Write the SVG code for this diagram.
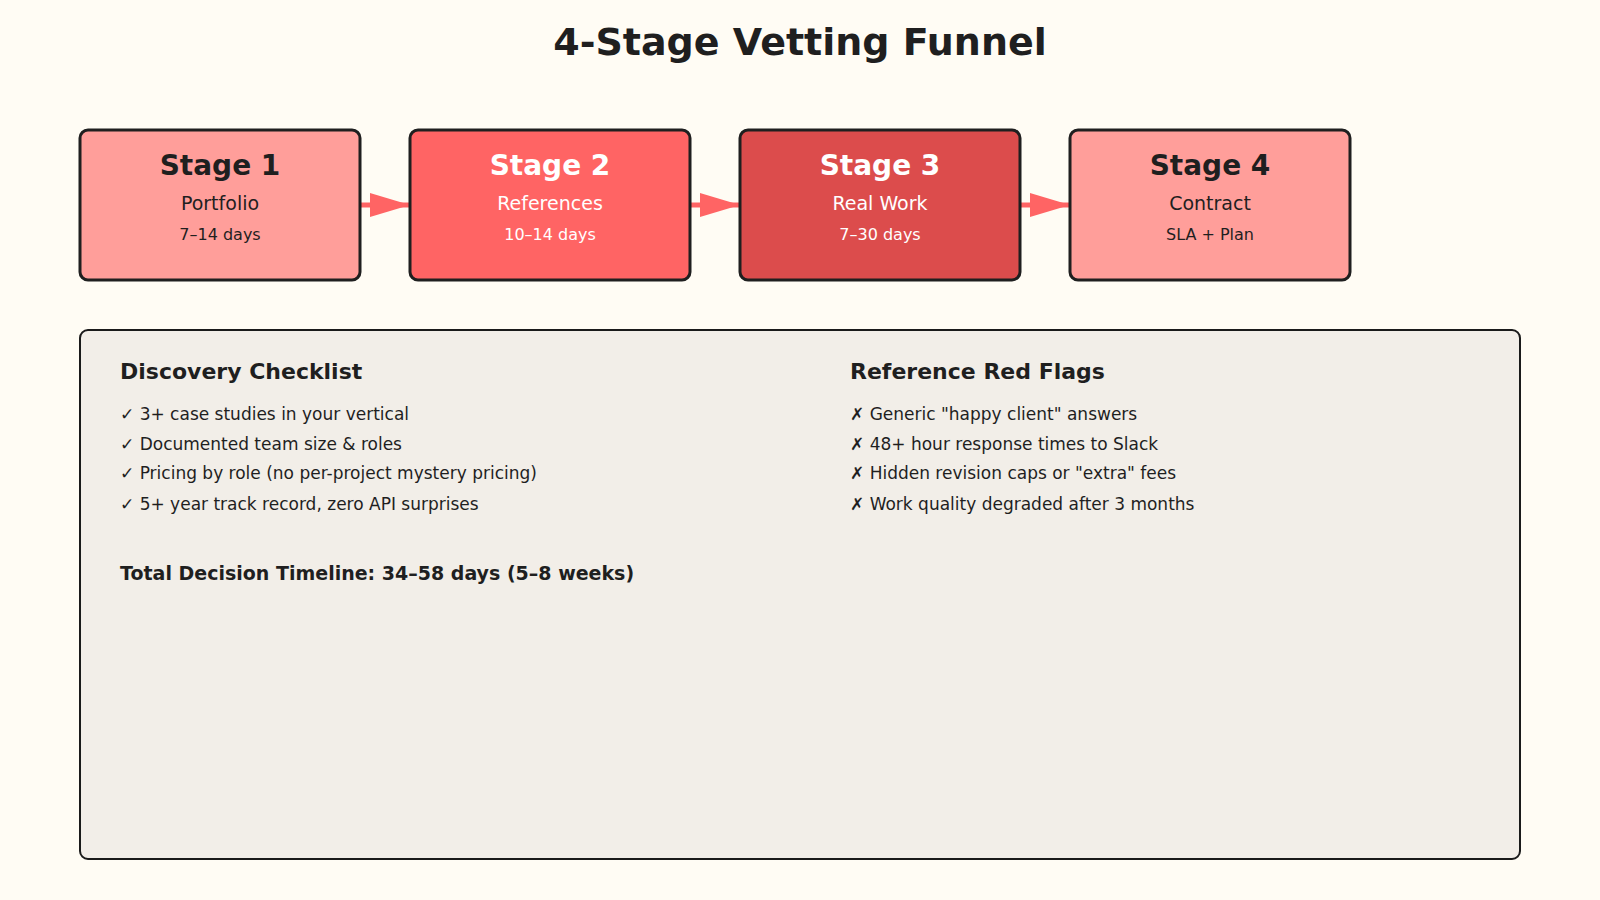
<svg xmlns="http://www.w3.org/2000/svg" width="1600" height="900" viewBox="0 0 1600 900">
<style>
text{font-family:"DejaVu Sans",sans-serif;fill:#1f1f1f}
.st{stroke:#1f1f1f;stroke-width:3}
.h{font-size:28px;font-weight:bold;text-anchor:middle}
.s{font-size:19px;text-anchor:middle}
.d{font-size:16px;text-anchor:middle}
.w{fill:#fff}
.hd{font-size:22px;font-weight:bold}
.it{font-size:17px}
</style>
<defs><marker id="a" markerWidth="10" markerHeight="8" refX="10" refY="4" orient="auto" markerUnits="userSpaceOnUse" viewBox="0 0 10 8"><path d="M0,0L10,4L0,8z" fill="#ff6464"/></marker>
<marker id="ah" viewBox="0 0 40 24" refX="40" refY="12" markerWidth="40" markerHeight="24" markerUnits="userSpaceOnUse" orient="auto"><path d="M0,0L40,12L0,24z" fill="#ff6464"/></marker></defs>
<rect width="1600" height="900" fill="#fffcf4"/>
<text x="800" y="55" style="font-size:38px;font-weight:bold;text-anchor:middle">4-Stage Vetting Funnel</text>
<g id="connectors" stroke="#ff6464" stroke-width="5">
<line x1="361" y1="205" x2="410" y2="205" marker-end="url(#ah)"/>
<line x1="691" y1="205" x2="740" y2="205" marker-end="url(#ah)"/>
<line x1="1021" y1="205" x2="1070" y2="205" marker-end="url(#ah)"/>
</g>
<g id="stage1"><rect class="st" x="80" y="130" width="280" height="150" rx="8" fill="#ff9e9a"/><text class="h" x="220" y="175">Stage 1</text><text class="s" x="220" y="210">Portfolio</text><text class="d" x="220" y="240">7–14 days</text></g>
<g id="stage2"><rect class="st" x="410" y="130" width="280" height="150" rx="8" fill="#ff6464"/><text class="h w" x="550" y="175">Stage 2</text><text class="s w" x="550" y="210">References</text><text class="d w" x="550" y="240">10–14 days</text></g>
<g id="stage3"><rect class="st" x="740" y="130" width="280" height="150" rx="8" fill="#dc4c4c"/><text class="h w" x="880" y="175">Stage 3</text><text class="s w" x="880" y="210">Real Work</text><text class="d w" x="880" y="240">7–30 days</text></g>
<g id="stage4"><rect class="st" x="1070" y="130" width="280" height="150" rx="8" fill="#ff9e9a"/><text class="h" x="1210" y="175">Stage 4</text><text class="s" x="1210" y="210">Contract</text><text class="d" x="1210" y="240">SLA + Plan</text></g>
<g id="panel">
<rect x="80" y="330" width="1440" height="529" rx="8" fill="#f2eee8" stroke="#1a1a1a" stroke-width="2"/>
<text class="hd" x="120" y="379">Discovery Checklist</text>
<text class="it" x="120" y="420">✓ 3+ case studies in your vertical</text>
<text class="it" x="120" y="450">✓ Documented team size &amp; roles</text>
<text class="it" x="120" y="479">✓ Pricing by role (no per-project mystery pricing)</text>
<text class="it" x="120" y="510">✓ 5+ year track record, zero API surprises</text>
<text x="120" y="580" style="font-size:19px;font-weight:bold">Total Decision Timeline: 34–58 days (5–8 weeks)</text>
<text class="hd" x="850" y="379">Reference Red Flags</text>
<text class="it" x="850" y="420">✗ Generic "happy client" answers</text>
<text class="it" x="850" y="450">✗ 48+ hour response times to Slack</text>
<text class="it" x="850" y="479">✗ Hidden revision caps or "extra" fees</text>
<text class="it" x="850" y="510">✗ Work quality degraded after 3 months</text>
</g>
</svg>
